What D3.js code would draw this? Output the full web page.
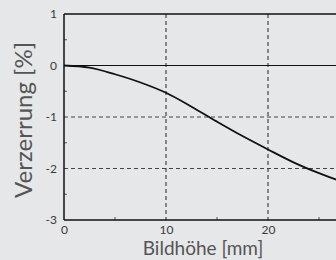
<!DOCTYPE html>
<html>
<head>
<meta charset="utf-8">
<script src="https://cdn.jsdelivr.net/npm/d3@7"></script>
<style>
  body { margin: 0; background: #e6e7e9; }
  svg { display: block; }
  .tick text { font-family: Lato, "Open Sans", sans-serif; font-size: 12px; fill: #3a3a3a; }
</style>
</head>
<body>
<div id="chart"></div>
<script>
// data
var bildhoehe = [0, 2.5, 5, 7.5, 10, 12.5, 15, 17.5, 20, 22.5, 25, 27.5, 30];
var verzerrung = [0, -0.04, -0.17, -0.33, -0.53, -0.80, -1.09, -1.37, -1.63, -1.88, -2.09, -2.27, -2.40];
var xTicks = [0, 10, 20];
var yTicks = [-3, -2, -1, 0, 1];

var svgWidth = 336, svgHeight = 260;
var margin = {top: 14, left: 64, bottom: 40};

var svg = d3.select("#chart").append("svg")
    .attr("width", svgWidth)
    .attr("height", svgHeight);

// x goes past the right edge, the picture is cut there
var x = d3.scaleLinear().domain([0, 30]).range([margin.left, margin.left + 306]);
var y = d3.scaleLinear().domain([-3, 1]).range([svgHeight - margin.bottom, margin.top]);

// grid
svg.append("g").selectAll("line")
    .data(xTicks.slice(1))
    .join("line")
    .attr("x1", d => x(d)).attr("x2", d => x(d))
    .attr("y1", y(1)).attr("y2", y(-3))
    .attr("stroke", "#222").attr("stroke-width", 1)
    .attr("stroke-dasharray", "4,3");

svg.append("g").selectAll("line")
    .data([-2, -1])
    .join("line")
    .attr("x1", x(0)).attr("x2", svgWidth)
    .attr("y1", d => y(d)).attr("y2", d => y(d))
    .attr("stroke", "#444").attr("stroke-width", 1)
    .attr("stroke-dasharray", "4,3");

// zero line and top border
svg.append("line")
    .attr("x1", x(0)).attr("x2", svgWidth)
    .attr("y1", y(0)).attr("y2", y(0))
    .attr("stroke", "#111").attr("stroke-width", 1.2);
svg.append("line")
    .attr("x1", x(0)).attr("x2", svgWidth)
    .attr("y1", y(1)).attr("y2", y(1))
    .attr("stroke", "#111").attr("stroke-width", 1.5);

// axes, ticks inward
var fmt = d => String(d);
var xAxis = d3.axisBottom(x).tickValues(xTicks).tickFormat(fmt).tickSize(0).tickPadding(5);
var yAxis = d3.axisLeft(y).tickValues(yTicks).tickFormat(fmt).tickSize(0).tickPadding(7);

svg.append("g")
    .attr("transform", `translate(0, ${y(-3)})`)
    .call(xAxis)
    .call(g => g.select(".domain").remove());

svg.append("g")
    .attr("transform", `translate(${x(0)}, 0)`)
    .call(yAxis)
    .call(g => g.select(".domain").remove());

// minor ticks
svg.append("g").selectAll("line")
    .data([5, 15, 25])
    .join("line")
    .attr("x1", d => x(d)).attr("x2", d => x(d))
    .attr("y1", y(-3)).attr("y2", y(-3) - 3)
    .attr("stroke", "#555");
svg.append("g").selectAll("line")
    .data([-2.5, -1.5, -0.5, 0.5])
    .join("line")
    .attr("x1", x(0)).attr("x2", x(0) + 3)
    .attr("y1", d => y(d)).attr("y2", d => y(d))
    .attr("stroke", "#555");

// axis lines
svg.append("line")
    .attr("x1", x(0)).attr("x2", svgWidth)
    .attr("y1", y(-3)).attr("y2", y(-3))
    .attr("stroke", "#111").attr("stroke-width", 1.5);
svg.append("line")
    .attr("x1", x(0)).attr("x2", x(0))
    .attr("y1", y(1)).attr("y2", y(-3))
    .attr("stroke", "#111").attr("stroke-width", 1.5);

// curve
var line = d3.line()
    .x((d, i) => x(bildhoehe[i]))
    .y(d => y(d))
    .curve(d3.curveMonotoneX);

svg.append("path")
    .datum(verzerrung)
    .attr("d", line)
    .attr("fill", "none")
    .attr("stroke", "#111")
    .attr("stroke-width", 1.8);

// axis titles
svg.append("text")
    .attr("x", 203).attr("y", 255)
    .attr("text-anchor", "middle")
    .attr("font-family", "Lato, 'Open Sans', sans-serif")
    .attr("font-size", 19)
    .attr("fill", "#555")
    .text("Bildhöhe [mm]");

svg.append("text")
    .attr("transform", `translate(32, 120) rotate(-90)`)
    .attr("text-anchor", "middle")
    .attr("font-family", "Lato, 'Open Sans', sans-serif")
    .attr("font-size", 24)
    .attr("fill", "#555")
    .text("Verzerrung [%]");
</script>
</body>
</html>
